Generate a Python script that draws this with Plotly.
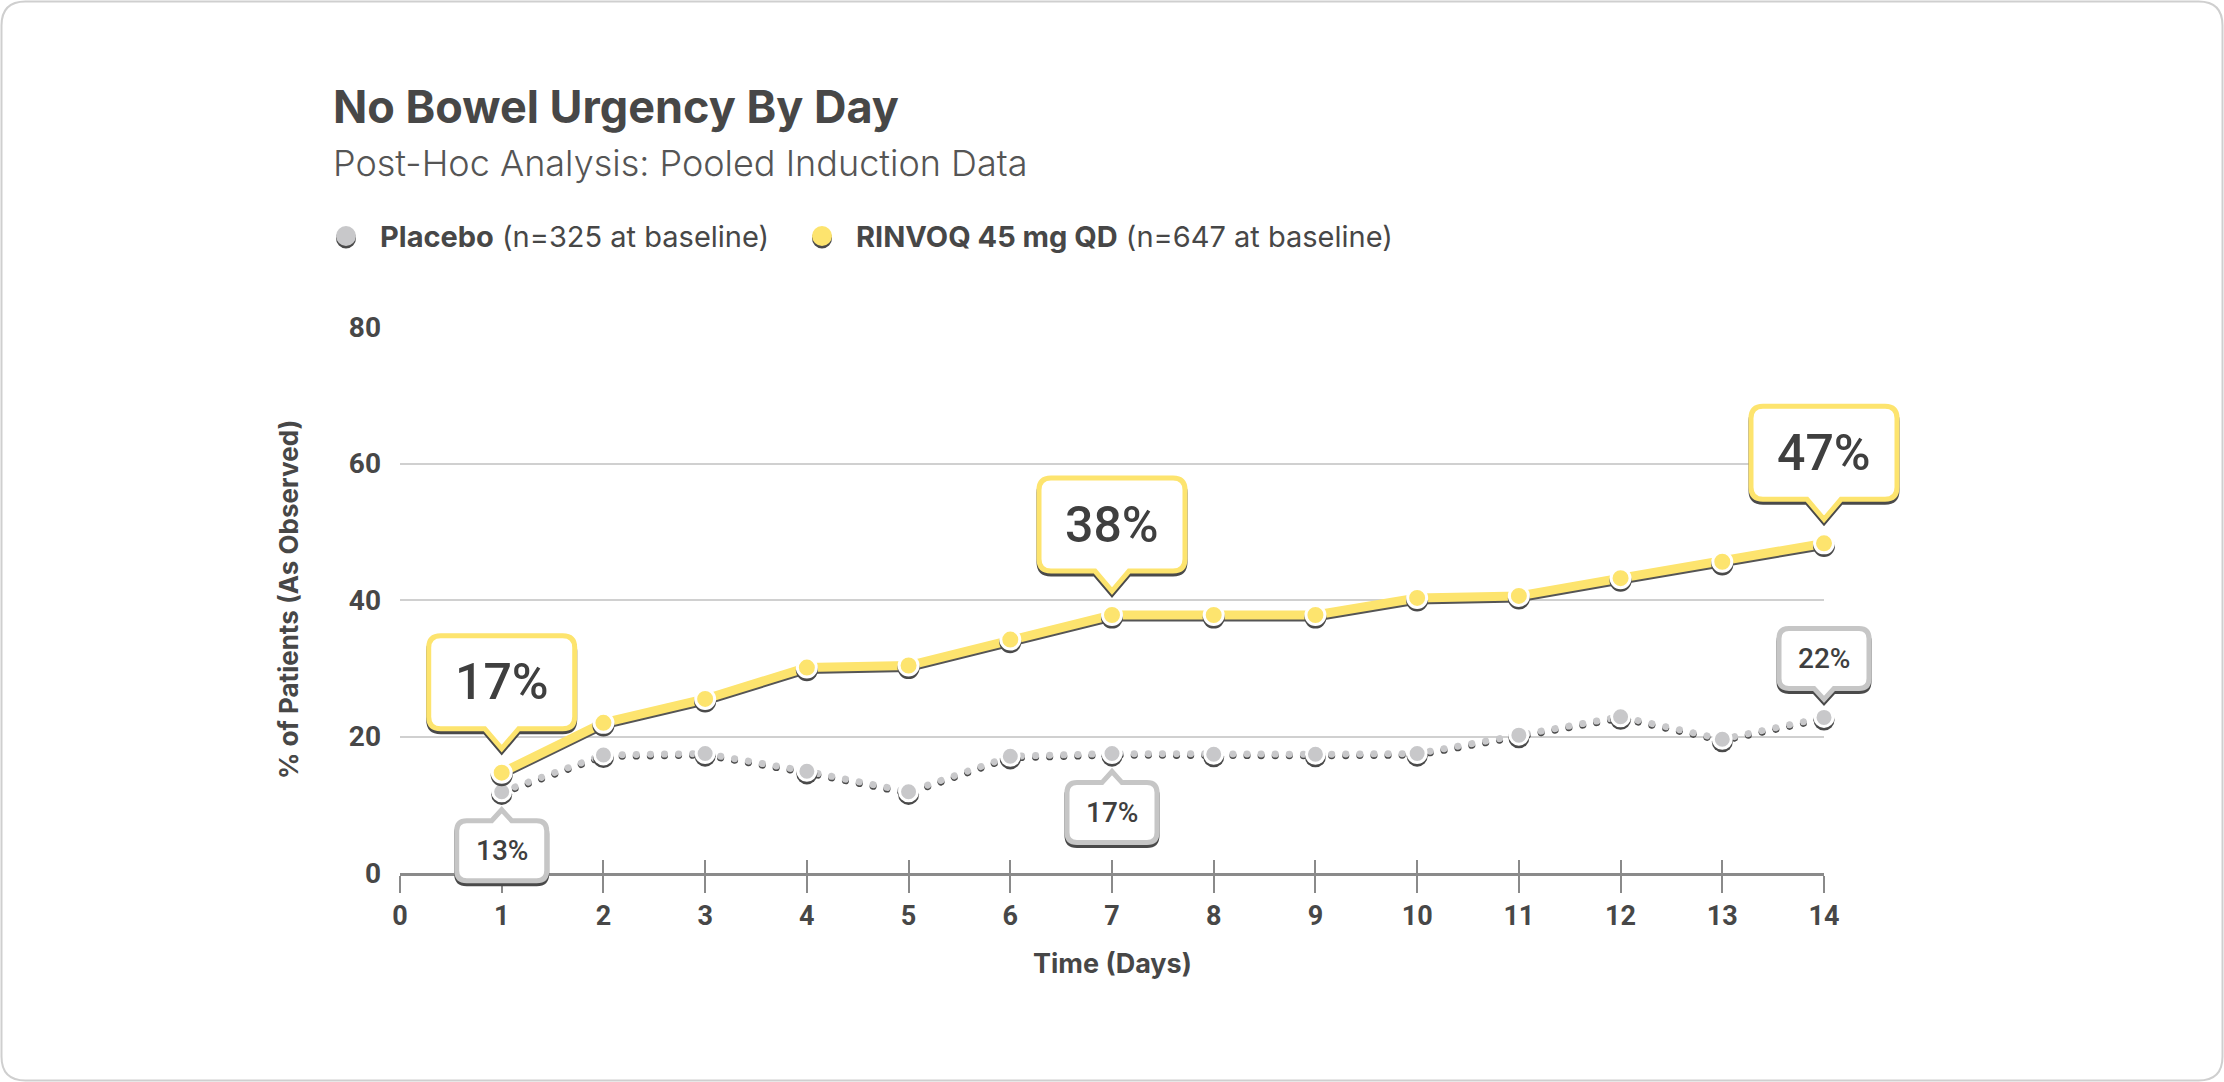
import plotly.graph_objects as go

# ---------------- data ----------------
days = list(range(1, 15))
placebo = [11.9, 17.3, 17.5, 14.9, 11.9, 17.1, 17.5, 17.4, 17.4, 17.5, 20.2, 22.9, 19.6, 22.8]
rinvoq = [14.7, 22.0, 25.5, 30.1, 30.4, 34.2, 37.8, 37.8, 37.8, 40.3, 40.6, 43.2, 45.6, 48.3]
x_ticks = list(range(0, 15))
y_ticks = [0, 20, 40, 60, 80]
x_range = [0, 14]
y_range = [0, 80]

rinvoq_callout_days = [1, 7, 14]
rinvoq_callout_text = ["17%", "38%", "47%"]
placebo_callout_days = [1, 7, 14]
placebo_callout_text = ["13%", "17%", "22%"]
placebo_callout_side = [-1, -1, 1]   # -1 below the point, +1 above

title_text = "No Bowel Urgency By Day"
subtitle_text = "Post-Hoc Analysis: Pooled Induction Data"
legend_placebo = "<b>Placebo</b> (n=325 at baseline)"
legend_rinvoq = "<b>RINVOQ 45 mg QD</b> (n=647 at baseline)"
x_title = "Time (Days)"
y_title = "% of Patients (As Observed)"

# ---------------- style ----------------
W, H = 2224, 1082
PL, PT, PW, PH = 400, 327, 1424, 546
YELLOW = "#fde46e"
GRAY = "#c8c8ca"
DARK = "#474747"
SHADOW = "#4a4a4a"
FONT = "Roboto"
TFONT = "Inter"
px_per_unit = PH / (y_range[1] - y_range[0])


def xp(px):
    return (px - PL) / PW


def yp(py):
    return (PT + PH - py) / PH


def xfrac(v):
    return (v - x_range[0]) / (x_range[1] - x_range[0])


def yfrac(v):
    return (v - y_range[0]) / (y_range[1] - y_range[0])


def callout_path(w, h, r, pw, ph, gap, s, dy=0.0):
    """Rounded box with pointer, pixel offsets relative to anchor (y up)."""
    yt = s * gap + dy
    yb = s * (gap + ph) + dy
    yf = s * (gap + ph + h) + dy
    hw = w / 2.0
    rs = r * s
    pts = [
        f"M {-hw + r},{yb}",
        f"L {-pw / 2},{yb}",
        f"L 0,{yt}",
        f"L {pw / 2},{yb}",
        f"L {hw - r},{yb}",
        f"Q {hw},{yb} {hw},{yb + rs}",
        f"L {hw},{yf - rs}",
        f"Q {hw},{yf} {hw - r},{yf}",
        f"L {-hw + r},{yf}",
        f"Q {-hw},{yf} {-hw},{yf - rs}",
        f"L {-hw},{yb + rs}",
        f"Q {-hw},{yb} {-hw + r},{yb}",
        "Z",
    ]
    return " ".join(pts)


fig = go.Figure()

# placebo dotted line (shadow + line)
fig.add_trace(go.Scatter(x=days, y=[v - 1.6 / px_per_unit for v in placebo], mode="lines",
                         line=dict(color=SHADOW, width=7, dash="7px,7px"), cliponaxis=False,
                         hoverinfo="skip", showlegend=False))
fig.add_trace(go.Scatter(x=days, y=placebo, mode="lines", cliponaxis=False,
                         line=dict(color=GRAY, width=7, dash="7px,7px"),
                         hoverinfo="skip", showlegend=False))
# rinvoq line (shadow + line)
fig.add_trace(go.Scatter(x=days, y=[v - 2.0 / px_per_unit for v in rinvoq], mode="lines",
                         line=dict(color="#555555", width=9), cliponaxis=False,
                         hoverinfo="skip", showlegend=False))
fig.add_trace(go.Scatter(x=days, y=rinvoq, mode="lines", cliponaxis=False,
                         line=dict(color=YELLOW, width=9),
                         hoverinfo="skip", showlegend=False))
# markers with shadows
fig.add_trace(go.Scatter(x=days, y=[v - 2.6 / px_per_unit for v in placebo], mode="markers",
                         marker=dict(color=SHADOW, size=21, line=dict(width=0)), cliponaxis=False,
                         hoverinfo="skip", showlegend=False))
fig.add_trace(go.Scatter(x=days, y=placebo, mode="markers", name="Placebo", cliponaxis=False,
                         marker=dict(color=GRAY, size=18, line=dict(color="white", width=3)),
                         showlegend=False))
fig.add_trace(go.Scatter(x=days, y=[v - 2.6 / px_per_unit for v in rinvoq], mode="markers",
                         marker=dict(color=SHADOW, size=22, line=dict(width=0)), cliponaxis=False,
                         hoverinfo="skip", showlegend=False))
fig.add_trace(go.Scatter(x=days, y=rinvoq, mode="markers", name="RINVOQ 45 mg QD", cliponaxis=False,
                         marker=dict(color=YELLOW, size=19, line=dict(color="white", width=3)),
                         showlegend=False))

shapes = []
annotations = []

# outer rounded border
bx0, by0, bx1, by1, br = 1.5, 1.5, W - 1.5, H - 1.5, 24
border = (f"M {xp(bx0 + br)},{yp(by0)} L {xp(bx1 - br)},{yp(by0)} "
          f"Q {xp(bx1)},{yp(by0)} {xp(bx1)},{yp(by0 + br)} L {xp(bx1)},{yp(by1 - br)} "
          f"Q {xp(bx1)},{yp(by1)} {xp(bx1 - br)},{yp(by1)} L {xp(bx0 + br)},{yp(by1)} "
          f"Q {xp(bx0)},{yp(by1)} {xp(bx0)},{yp(by1 - br)} L {xp(bx0)},{yp(by0 + br)} "
          f"Q {xp(bx0)},{yp(by0)} {xp(bx0 + br)},{yp(by0)} Z")
shapes.append(dict(type="path", xref="paper", yref="paper", path=border,
                   line=dict(color="#cfcfcf", width=2), fillcolor="rgba(0,0,0,0)", layer="below"))

# rinvoq callouts
for d, t in zip(rinvoq_callout_days, rinvoq_callout_text):
    yv = rinvoq[days.index(d)]
    for dy, fill, col in [(-3, SHADOW, SHADOW), (0, "white", YELLOW)]:
        shapes.append(dict(type="path", xref="paper", yref="paper", xsizemode="pixel", ysizemode="pixel",
                           xanchor=xfrac(d), yanchor=yfrac(yv),
                           path=callout_path(146, 93, 12, 34, 20, 24, 1, dy),
                           fillcolor=fill, line=dict(color=col, width=5), layer="above"))
    annotations.append(dict(x=d, y=yv, xref="x", yref="y", text=t, showarrow=False,
                            yshift=24 + 20 + 93 / 2, xanchor="center", yanchor="middle",
                            font=dict(family=FONT, size=50, color="#3f3f3f", weight=500)))

# placebo callouts
for d, t, s in zip(placebo_callout_days, placebo_callout_text, placebo_callout_side):
    yv = placebo[days.index(d)]
    for dy, fill, col in [(-3, SHADOW, SHADOW), (0, "white", "#c6c6c6")]:
        shapes.append(dict(type="path", xref="paper", yref="paper", xsizemode="pixel", ysizemode="pixel",
                           xanchor=xfrac(d), yanchor=yfrac(yv),
                           path=callout_path(90, 60, 10, 20, 11, 18, s, dy),
                           fillcolor=fill, line=dict(color=col, width=5), layer="above"))
    annotations.append(dict(x=d, y=yv, xref="x", yref="y", text=t, showarrow=False,
                            yshift=s * (18 + 11 + 60 / 2), xanchor="center", yanchor="middle",
                            font=dict(family=FONT, size=28, color="#3f3f3f", weight=500)))

# legend symbols
for cx, col in [(346, GRAY), (822, YELLOW)]:
    shapes.append(dict(type="circle", xref="paper", yref="paper", xsizemode="pixel", ysizemode="pixel",
                       xanchor=xp(cx), yanchor=yp(236), x0=-10, x1=10, y0=-12.5, y1=7.5,
                       fillcolor=SHADOW, line=dict(width=0), layer="above"))
    shapes.append(dict(type="circle", xref="paper", yref="paper", xsizemode="pixel", ysizemode="pixel",
                       xanchor=xp(cx), yanchor=yp(236), x0=-10, x1=10, y0=-10, y1=10,
                       fillcolor=col, line=dict(width=0), layer="above"))

# titles and legend text
annotations += [
    dict(x=xp(331), y=yp(106), xref="paper", yref="paper", text=f"<b>{title_text}</b>",
         showarrow=False, xanchor="left", yanchor="middle",
         font=dict(family=TFONT, size=45, color=DARK)),
    dict(x=xp(331), y=yp(163), xref="paper", yref="paper", text=subtitle_text,
         showarrow=False, xanchor="left", yanchor="middle",
         font=dict(family=TFONT, size=36, color="#555555", weight=300)),
    dict(x=xp(378), y=yp(237), xref="paper", yref="paper", text=legend_placebo,
         showarrow=False, xanchor="left", yanchor="middle",
         font=dict(family=TFONT, size=29, color=DARK)),
    dict(x=xp(854), y=yp(237), xref="paper", yref="paper", text=legend_rinvoq,
         showarrow=False, xanchor="left", yanchor="middle",
         font=dict(family=TFONT, size=29, color=DARK)),
    dict(x=xp(1112), y=yp(963), xref="paper", yref="paper", text=f"<b>{x_title}</b>",
         showarrow=False, xanchor="center", yanchor="middle",
         font=dict(family=TFONT, size=27, color=DARK)),
    dict(x=xp(288), y=0.5, xref="paper", yref="paper", text=f"<b>{y_title}</b>",
         showarrow=False, xanchor="center", yanchor="middle", textangle=-90,
         font=dict(family=TFONT, size=26, color=DARK)),
]

fig.update_layout(
    width=W, height=H,
    margin=dict(l=PL, r=W - PL - PW, t=PT, b=H - PT - PH, autoexpand=False),
    paper_bgcolor="white", plot_bgcolor="white",
    showlegend=False,
    shapes=shapes, annotations=annotations,
    xaxis=dict(range=x_range, tickvals=x_ticks, ticktext=[str(v) for v in x_ticks],
               showgrid=False, zeroline=False, showline=True, linecolor="#8a8a8a", linewidth=2.5,
               ticks="outside", ticklen=17, tickwidth=2, tickcolor="#8a8a8a",
               tickfont=dict(family=FONT, size=27, color=DARK, weight="bold")),
    xaxis2=dict(range=x_range, overlaying="x", anchor="y", side="bottom",
                tickvals=x_ticks, showticklabels=False, showgrid=False, zeroline=False,
                showline=False, ticks="inside", ticklen=13, tickwidth=2, tickcolor="#8a8a8a"),
    yaxis=dict(range=y_range, tickvals=y_ticks, showgrid=True, gridcolor="#d0d0d0", gridwidth=2,
               zeroline=False, showline=False, ticks="", ticklabelstandoff=18,
               tickfont=dict(family=FONT, size=28, color=DARK, weight="bold")),
)
# invisible trace to activate xaxis2
fig.add_trace(go.Scatter(x=[None], y=[None], xaxis="x2", yaxis="y", showlegend=False, hoverinfo="skip"))

post = """
document.body.style.margin = '0';
document.body.style.overflow = 'hidden';
var traces = document.querySelectorAll('.scatterlayer .trace');
[0, 1].forEach(function(i){
  if (traces[i]) {
    var p = traces[i].querySelector('path.js-line');
    if (p) { p.style.strokeLinecap = 'round'; p.style.strokeDasharray = '0.1px,14px'; }
  }
});
"""

fig.write_html("out.html", post_script=post, config={"displayModeBar": False})
